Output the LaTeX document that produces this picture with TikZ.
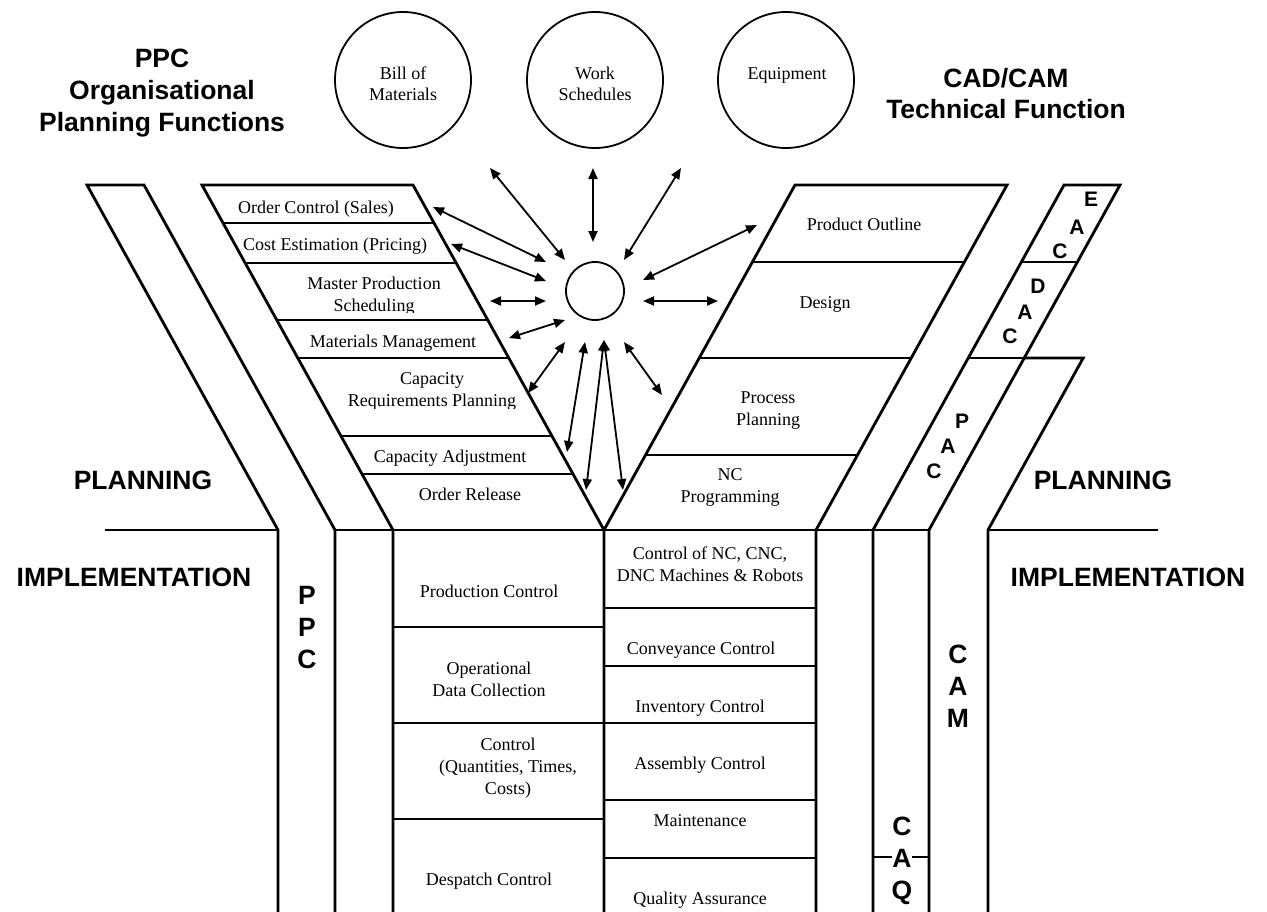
\documentclass[tikz,border=0pt]{standalone}
\usepackage{fontspec}
\setmainfont{Liberation Serif}
\setsansfont{Liberation Sans}
\usetikzlibrary{arrows.meta}

\begin{document}
\begin{tikzpicture}[x=1pt,y=-1pt,
  outline/.style={line width=2.8pt, line join=miter, line cap=rect},
  divider/.style={line width=1.8pt},
  rowline/.style={line width=1.8pt},
  store/.style={circle, draw, line width=1.8pt, minimum size=136pt, inner sep=0pt},
  core/.style={circle, draw, line width=1.8pt, minimum size=58pt, inner sep=0pt},
  txt/.style={font=\fontsize{18}{22}\selectfont, align=center, inner sep=0pt, anchor=north},
  storetxt/.style={font=\fontsize{18}{21}\selectfont, align=center, inner sep=0pt, anchor=north},
  heading/.style={font=\sffamily\bfseries\fontsize{26.5}{32}\selectfont, align=center, inner sep=0pt, anchor=north},
  letter/.style={font=\sffamily\bfseries\fontsize{21}{25}\selectfont, inner sep=0pt},
  link/.style={{Triangle[length=11pt,width=9pt]}-{Triangle[length=11pt,width=9pt]}, line width=1.8pt},
]
\useasboundingbox (0,0) rectangle (1267,911);
\fill[white] (0,0) rectangle (1267,911);

% ---------- headings ----------
\node[heading] (ppchead) at (162,49) {PPC\\Organisational\\Planning Functions};
\node[heading, font=\sffamily\bfseries\fontsize{26.5}{31.5}\selectfont] (cadhead) at (1006,68) {CAD/CAM\\Technical Function};
\node[heading] (planL) at (143,471) {PLANNING};
\node[heading] (planR) at (1103,471) {PLANNING};
\node[heading] (implL) at (134,568) {IMPLEMENTATION};
\node[heading] (implR) at (1128,568) {IMPLEMENTATION};

% ---------- data stores ----------
\node[store] (bom) at (403,80) {};
\node[store] (ws) at (595,80) {};
\node[store] (eq) at (786,80) {};
\node[storetxt] (bomtxt) at (403,66.7) {Bill of\\Materials};
\node[storetxt] (wstxt) at (595,66.7) {Work\\Schedules};
\node[storetxt] (eqtxt) at (787,67.2) {Equipment};

% ---------- PPC strip and planning funnel (left) ----------
\draw[outline] (278,911) -- (278,530) -- (87,185) -- (144,185) -- (335,530) -- (335,911);
\draw[outline] (393,911) -- (393,530) -- (202,185) -- (413,185) -- (604,530) -- (604,911);
\draw[rowline] (223.0,223) -- (434.0,223);
\draw[rowline] (245.2,263) -- (456.2,263);
\draw[rowline] (276.7,320) -- (487.7,320);
\draw[rowline] (297.8,358) -- (508.8,358);
\draw[rowline] (341.0,436) -- (552.0,436);
\draw[rowline] (362.0,474) -- (573.0,474);

\node[txt] (oc) at (316,200.7) {Order Control (Sales)};
\node[txt] (ce) at (335,237.7) {Cost Estimation (Pricing)};
\begin{scope}
  \clip (250,265) rectangle (500,312.5);
  \node[txt] (mps) at (374,277.2) {Master Production\\Scheduling};
\end{scope}
\node[txt] (mm) at (393,334.7) {Materials Management};
\begin{scope}
  \clip (300,360) rectangle (560,408);
  \node[txt] (crp) at (432,372.7) {Capacity\\Requirements Planning};
\end{scope}
\node[txt] (ca) at (450,449.7) {Capacity Adjustment};
\node[txt] (orl) at (470,487.7) {Order Release};

% ---------- technical funnel (right) ----------
\draw[outline] (816,911) -- (816,530) -- (1007,185) -- (795,185) -- (604,530);
\draw[rowline] (752.4,262) -- (964.4,262);
\draw[rowline] (699.2,358) -- (911.2,358);
\draw[rowline] (645.5,455) -- (857.5,455);

\node[txt] (po) at (864,217.7) {Product Outline};
\node[txt] (des) at (825,296.7) {Design};
\node[txt] (pp) at (768,391.7) {Process\\Planning};
\node[txt] (ncp) at (730,468.1) {NC\\Programming};

% ---------- CAE / CAD / CAP strip and CAM strip ----------
\draw[outline] (873,911) -- (873,530) -- (1064,185) -- (1120,185) -- (929,530) -- (929,911);
\draw[rowline] (1021.4,262) -- (1077.4,262);
\draw[rowline] (968.2,358) -- (1024.2,358);
\draw[outline] (1024.2,358) -- (1083.2,358) -- (988,530) -- (988,911);

\node[letter] (caeE) at (1091,199) {E};
\node[letter] (caeA) at (1077,227) {A};
\node[letter] (caeC) at (1060,251) {C};
\node[letter] (cadD) at (1038,286) {D};
\node[letter] (cadA) at (1025,312) {A};
\node[letter] (cadC) at (1010,336) {C};
\node[letter] (capP) at (962,421) {P};
\node[letter] (capA) at (948,446) {A};
\node[letter] (capC) at (934,471) {C};

% ---------- planning / implementation boundary ----------
\draw[divider] (105,530) -- (278,530);
\draw[divider] (988,530) -- (1158,530);
\draw[outline] (335,530) -- (929,530);

% ---------- implementation: PPC side ----------
\draw[rowline] (393,627) -- (604,627);
\draw[rowline] (393,723) -- (604,723);
\draw[rowline] (393,819) -- (604,819);
\node[txt] (prc) at (489,584.7) {Production Control};
\node[txt] (odc) at (489,661.7) {Operational\\Data Collection};
\node[txt] (ctl) at (508,737.7) {Control\\(Quantities, Times,\\Costs)};
\node[txt] (dsp) at (489,872.7) {Despatch Control};

% ---------- implementation: CAM side ----------
\draw[rowline] (604,608) -- (816,608);
\draw[rowline] (604,666) -- (816,666);
\draw[rowline] (604,723) -- (816,723);
\draw[rowline] (604,800) -- (816,800);
\draw[rowline] (604,858) -- (816,858);
\node[txt] (nc) at (710,546.7) {Control of NC, CNC,\\DNC Machines \& Robots};
\node[txt] (cvc) at (701,641.7) {Conveyance Control};
\node[txt] (inv) at (700,699.7) {Inventory Control};
\node[txt] (asm) at (700,756.7) {Assembly Control};
\node[txt] (mnt) at (700,814.7) {Maintenance};
\node[txt] (qa) at (700,891.7) {Quality Assurance};

\draw[rowline] (873,857) -- (929,857);
\node[heading] (ppcv) at (307,586) {P\\P\\C};
\node[heading] (camv) at (958,645) {C\\A\\M};
\node[heading, fill=white] (caqv) at (902,817) {C\\A\\Q};

% ---------- shared database and links ----------
\node[core] (db) at (595,291) {};

\coordinate (l1a) at (565,260);  \coordinate (l1b) at (490,168);
\coordinate (l2a) at (593,242);  \coordinate (l2b) at (593,168);
\coordinate (l3a) at (624,260);  \coordinate (l3b) at (681,168);
\coordinate (l4a) at (546,262);  \coordinate (l4b) at (433,207);
\coordinate (l5a) at (546,281);  \coordinate (l5b) at (451,244);
\coordinate (l6a) at (546,301);  \coordinate (l6b) at (490,301);
\coordinate (l7a) at (565,320);  \coordinate (l7b) at (509,338);
\coordinate (l8a) at (565,342);  \coordinate (l8b) at (528,393);
\coordinate (l9a) at (585,342);  \coordinate (l9b) at (567,452);
\coordinate (l10a) at (604,340); \coordinate (l10b) at (586,490);
\coordinate (l11b) at (623,490);
\coordinate (l12a) at (624,342); \coordinate (l12b) at (662,395);
\coordinate (l13a) at (643,301); \coordinate (l13b) at (718,301);
\coordinate (l14a) at (643,280); \coordinate (l14b) at (757,225);

\draw[link] (l1a) -- (l1b);
\draw[link] (l2a) -- (l2b);
\draw[link] (l3a) -- (l3b);
\draw[link] (l4a) -- (l4b);
\draw[link] (l5a) -- (l5b);
\draw[link] (l6a) -- (l6b);
\draw[link] (l7a) -- (l7b);
\draw[link] (l8a) -- (l8b);
\draw[link] (l9a) -- (l9b);
\draw[link] (l10a) -- (l10b);
\draw[link] (l10a) -- (l11b);
\draw[link] (l12a) -- (l12b);
\draw[link] (l13a) -- (l13b);
\draw[link] (l14a) -- (l14b);

\end{tikzpicture}
\end{document}
